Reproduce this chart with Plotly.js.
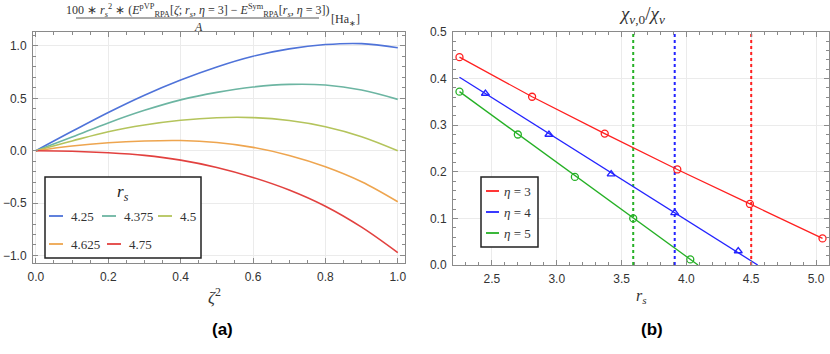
<!DOCTYPE html>
<html>
<head>
<meta charset="utf-8">
<script src="https://cdn.plot.ly/plotly-3.0.1.min.js"></script>
<style>html,body{margin:0;padding:0;background:#fff}#draw{width:830px;height:354px}</style>
</head>
<body>
<div id="draw"></div>
<script>
// (a) energy difference vs zeta^2, one curve per r_s
const zeta2 = [0, 0.1, 0.2, 0.3, 0.4, 0.5, 0.6, 0.7, 0.8, 0.9, 1.0]
const rsNames = ['4.25', '4.375', '4.5', '4.625', '4.75']
const dE_425 = [0, 0.185, 0.365, 0.53, 0.675, 0.80, 0.902, 0.972, 1.013, 1.022, 0.983]
const dE_4375 = [0, 0.13, 0.265, 0.385, 0.485, 0.557, 0.608, 0.633, 0.627, 0.579, 0.49]
const dE_45 = [0, 0.093, 0.181, 0.245, 0.29, 0.315, 0.316, 0.288, 0.229, 0.134, 0.0]
const dE_4625 = [0, 0.045, 0.076, 0.093, 0.097, 0.078, 0.032, -0.045, -0.153, -0.296, -0.487]
const dE_475 = [0, -0.005, -0.02, -0.045, -0.09, -0.16, -0.255, -0.375, -0.53, -0.73, -0.973]
const rsColors = ['#4f73d9', '#6cb5a2', '#b4c45c', '#eea54f', '#e2413f']

// (b) chi ratio vs r_s
const rs3 = [2.25, 2.81, 3.37, 3.93, 4.49, 5.05]
const chi3 = [0.446, 0.361, 0.282, 0.205, 0.131, 0.057]
const rs4 = [2.45, 2.94, 3.42, 3.91, 4.40]
const chi4 = [0.368, 0.280, 0.195, 0.112, 0.030]
const rs4Fit = [2.25, 4.55]
const chi4Fit = [0.403, 0.0]
const rs5 = [2.25, 2.70, 3.14, 3.59, 4.03]
const chi5 = [0.372, 0.280, 0.189, 0.100, 0.012]
const rs5Fit = [2.25, 4.09]
const chi5Fit = [0.372, 0.0]
const rsCrit = [4.5, 3.91, 3.59]   // eta = 3, 4, 5
const etaNames = ['<i>η</i> = 3', '<i>η</i> = 4', '<i>η</i> = 5']
const etaColors = ['#ff2020', '#2323ff', '#25b025']

const W = 830, H = 354
const px = (x) => x / W
const py = (y) => 1 - y / H
const serif = 'Liberation Serif, Times New Roman, serif'
const sans = 'Liberation Sans, Arial, sans-serif'

// text at pixel position, centred
const label = (x, y, text, size, family, color, anchor) => ({
  xref: 'paper', yref: 'paper', x: px(x), y: py(y),
  xanchor: anchor || 'center', yanchor: 'middle',
  text: text, showarrow: false,
  font: {family: family || serif, size: size, color: color || '#333'}
})

const main = () => {
  const dE = [dE_425, dE_4375, dE_45, dE_4625, dE_475]
  const traces = dE.map((ys, i) => ({
    x: zeta2, y: ys, name: rsNames[i], type: 'scatter', mode: 'lines',
    line: {color: rsColors[i], width: 1.6, shape: 'spline', smoothing: 1},
    xaxis: 'x', yaxis: 'y', showlegend: false
  }))

  // critical r_s lines
  rsCrit.forEach((r, i) => {
    traces.push({
      x: [r, r], y: [0, 0.5], type: 'scatter', mode: 'lines',
      line: {color: etaColors[i], width: 2, dash: 'dot'},
      xaxis: 'x2', yaxis: 'y2', showlegend: false, hoverinfo: 'skip'
    })
  })

  traces.push({
    x: rs3, y: chi3, type: 'scatter', mode: 'lines+markers', name: etaNames[0],
    line: {color: etaColors[0], width: 1.3},
    marker: {symbol: 'circle-open', size: 7, color: etaColors[0], line: {width: 1.3}},
    xaxis: 'x2', yaxis: 'y2', showlegend: false, cliponaxis: false
  })
  traces.push({
    x: rs4Fit, y: chi4Fit, type: 'scatter', mode: 'lines',
    line: {color: etaColors[1], width: 1.3},
    xaxis: 'x2', yaxis: 'y2', showlegend: false
  })
  traces.push({
    x: rs4, y: chi4, type: 'scatter', mode: 'markers', name: etaNames[1],
    marker: {symbol: 'triangle-up-open', size: 7, color: etaColors[1], line: {width: 1.3}},
    xaxis: 'x2', yaxis: 'y2', showlegend: false
  })
  traces.push({
    x: rs5Fit, y: chi5Fit, type: 'scatter', mode: 'lines',
    line: {color: etaColors[2], width: 1.3},
    xaxis: 'x2', yaxis: 'y2', showlegend: false
  })
  traces.push({
    x: rs5, y: chi5, type: 'scatter', mode: 'markers', name: etaNames[2],
    marker: {symbol: 'circle-open', size: 7, color: etaColors[2], line: {width: 1.3}},
    xaxis: 'x2', yaxis: 'y2', showlegend: false, cliponaxis: false
  })

  const axBase = {
    showline: true, mirror: 'allticks', linecolor: '#8a8a8a', linewidth: 1,
    ticks: 'inside', ticklen: 5, tickcolor: '#8a8a8a', tickwidth: 1,
    showgrid: true, gridcolor: '#ebebeb', gridwidth: 1, zeroline: false,
    tickfont: {family: sans, size: 12, color: '#333'}, ticklabelstandoff: 3
  }

  const shapes = []
  const annotations = []

  // legend (a)
  shapes.push({type: 'rect', xref: 'paper', yref: 'paper',
    x0: px(45), x1: px(201), y0: py(258), y1: py(177),
    line: {color: '#222', width: 1.5}, fillcolor: '#fff', layer: 'above'})
  annotations.push(label(123, 193, '<i>r</i><sub><i>s</i></sub>', 17, serif, '#222'))
  const slotsA = [[49, 216], [102, 216], [158, 216], [49, 244], [107, 244]]
  rsNames.forEach((n, i) => {
    const [sx, sy] = slotsA[i]
    shapes.push({type: 'line', xref: 'paper', yref: 'paper',
      x0: px(sx), x1: px(sx + 14), y0: py(sy), y1: py(sy),
      line: {color: rsColors[i], width: 1.8}, layer: 'above'})
    annotations.push(label(sx + 20, sy, n, 13, serif, '#333', 'left'))
  })

  // legend (b)
  shapes.push({type: 'rect', xref: 'paper', yref: 'paper',
    x0: px(481), x1: px(538), y0: py(247), y1: py(177),
    line: {color: '#222', width: 1.5}, fillcolor: '#fff', layer: 'above'})
  const rowsB = [191, 212, 233]
  etaNames.forEach((n, i) => {
    shapes.push({type: 'line', xref: 'paper', yref: 'paper',
      x0: px(486), x1: px(499), y0: py(rowsB[i]), y1: py(rowsB[i]),
      line: {color: etaColors[i], width: 1.8}, layer: 'above'})
    annotations.push(label(502, rowsB[i], n, 13, serif, '#333', 'left'))
  })

  // titles (a)
  annotations.push(label(197, 11,
    '100 ∗ <i>r</i><sub><i>s</i></sub><sup>2</sup> ∗ (<i>E</i><sup>pVP</sup><sub>RPA</sub>[<i>ζ</i>; <i>r</i><sub><i>s</i></sub>, <i>η</i> = 3] − <i>E</i><sup>Sym</sup><sub>RPA</sub>[<i>r</i><sub><i>s</i></sub>, <i>η</i> = 3])',
    12))
  shapes.push({type: 'line', xref: 'paper', yref: 'paper',
    x0: px(76), x1: px(319), y0: py(18), y1: py(18), line: {color: '#555', width: 1}})
  annotations.push(label(198, 27, '<i>A</i>', 12))
  annotations.push(label(345, 20, '[Ha<sub>∗</sub>]', 12))
  annotations.push(label(214, 296, '<i>ζ</i><sup>2</sup>', 17))
  annotations.push(label(222, 329, '<b>(a)</b>', 17, sans, '#000'))

  // titles (b)
  annotations.push(label(642, 15, '<i>χ</i><sub><i>v</i>,0</sub>/<i>χ</i><sub><i>v</i></sub>', 19))
  annotations.push(label(641, 296, '<i>r</i><sub><i>s</i></sub>', 16))
  annotations.push(label(652, 329, '<b>(b)</b>', 17, sans, '#000'))

  const layout = {
    width: W, height: H,
    margin: {l: 0, r: 0, t: 0, b: 0},
    paper_bgcolor: '#fff', plot_bgcolor: '#fff',
    showlegend: false,
    xaxis: Object.assign({}, axBase, {
      domain: [px(33), px(405)], range: [-0.008, 1.02],
      tick0: 0, dtick: 0.2, tickformat: '.1f',
      minor: {ticks: 'inside', dtick: 0.05, ticklen: 3, tickcolor: '#8a8a8a', showgrid: false},
      anchor: 'y'
    }),
    yaxis: Object.assign({}, axBase, {
      domain: [1 - 263 / H, 1 - 32 / H], range: [-1.072, 1.133],
      tick0: 0, dtick: 0.5, tickformat: '.1f',
      minor: {ticks: 'inside', dtick: 0.1, ticklen: 3, tickcolor: '#8a8a8a', showgrid: false},
      anchor: 'x'
    }),
    xaxis2: Object.assign({}, axBase, {
      domain: [px(453), px(829)], range: [2.2, 5.1],
      tick0: 0, dtick: 0.5, tickformat: '.1f',
      minor: {ticks: 'inside', dtick: 0.1, ticklen: 3, tickcolor: '#8a8a8a', showgrid: false},
      anchor: 'y2'
    }),
    yaxis2: Object.assign({}, axBase, {
      domain: [1 - 265 / H, 1 - 32 / H], range: [0, 0.5],
      tick0: 0, dtick: 0.1, tickformat: '.1f',
      minor: {ticks: 'inside', dtick: 0.02, ticklen: 3, tickcolor: '#8a8a8a', showgrid: false},
      anchor: 'x2'
    }),
    shapes: shapes,
    annotations: annotations
  }

  Plotly.newPlot('draw', traces, layout, {displayModeBar: false, staticPlot: true})
}

main()
</script>
</body>
</html>
